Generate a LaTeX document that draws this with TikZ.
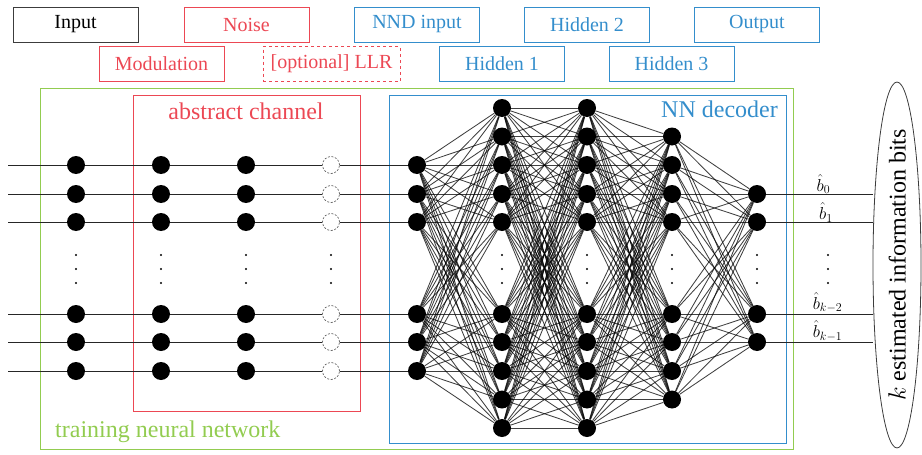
\documentclass[tikz,border=0pt]{standalone}
\usepackage{fontspec}
\setmainfont{Liberation Serif}
\newfontfamily\timesfont{Liberation Serif}
\usetikzlibrary{shapes.geometric}
\definecolor{chred}{RGB}{236,72,84}
\definecolor{nnblue}{RGB}{52,142,204}
\definecolor{trgreen}{RGB}{146,204,80}
\definecolor{inkgray}{RGB}{60,60,60}
\begin{document}
\begin{tikzpicture}[x=1pt,y=-1pt,
  legend/.style={draw, line width=1pt, minimum width=125pt, minimum height=35pt,
                 inner sep=0pt, font=\timesfont\fontsize{20}{22}\selectfont},
  neuron/.style={circle, fill=black, minimum size=18pt, inner sep=0pt},
  ghost/.style={circle, draw=black!70, dashed, dash pattern=on 2pt off 1.6pt,
                line width=0.6pt, minimum size=17pt, inner sep=0pt, fill=white},
  wire/.style={line width=0.9pt, black!85},
  link/.style={line width=0.85pt, black, opacity=0.75},
  frame/.style={line width=1pt},
  vdot/.style={circle, fill=black, minimum size=2.4pt, inner sep=0pt},
  biglabel/.style={font=\timesfont\fontsize{24}{28}\selectfont},
  bitlabel/.style={anchor=base, inner sep=0pt, font=\fontsize{18.5}{20}\selectfont}]

\useasboundingbox (0,0) rectangle (922,455);

% legend
\node[legend, draw=inkgray, text=black] (lg-in) at (75.5,24.5) {Input};
\node[legend, draw=chred, text=chred] (lg-noise) at (246.5,24.5) {Noise};
\node[legend, draw=nnblue, text=nnblue] (lg-nnd) at (417,24.5) {NND input};
\node[legend, draw=nnblue, text=nnblue] (lg-h2) at (587,24.5) {Hidden 2};
\node[legend, draw=nnblue, text=nnblue] (lg-out) at (757,24.5) {Output};
\node[legend, draw=chred, text=chred] (lg-mod) at (161.5,64) {Modulation};
\node[legend, draw=chred, text=chred, dashed, minimum width=137pt] (lg-llr) at (331.5,64) {[optional] LLR};
\node[legend, draw=nnblue, text=nnblue] (lg-h1) at (502,64) {Hidden 1};
\node[legend, draw=nnblue, text=nnblue] (lg-h3) at (671.5,64) {Hidden 3};

% frames
\draw[frame, trgreen] (40,88) rectangle (793,449);
\draw[frame, chred] (133,95) rectangle (360,411);
\draw[frame, nnblue] (389,95) rectangle (786,443);
\node[biglabel, text=chred, anchor=base] (lb-ch) at (246,119) {abstract channel};
\node[biglabel, text=trgreen, anchor=base west, inner sep=0pt] (lb-tr) at (55,437) {training neural network};
\node[biglabel, text=nnblue, anchor=base east, inner sep=0pt] (lb-nn) at (778,117) {NN decoder};

% input, channel and NND input columns
\foreach \y [count=\i] in {165,194,222,314,342,371} {
  \coordinate (w-\i) at (8,\y);
  \node[neuron] (in-\i) at (76,\y) {};
  \node[neuron] (md-\i) at (161,\y) {};
  \node[neuron] (ns-\i) at (246,\y) {};
  \node[ghost] (ll-\i) at (331,\y) {};
  \node[neuron] (nd-\i) at (417,\y) {};
}
% hidden layers
\foreach \y [count=\i] in {108,136.5,165,194,222,314,342,371,399.5,428} {
  \node[neuron] (ha-\i) at (502,\y) {};
  \node[neuron] (hb-\i) at (587,\y) {};
}
\foreach \y [count=\i] in {136.5,165,194,222,314,342,371,399.5} {
  \node[neuron] (hc-\i) at (672,\y) {};
}
% output layer
\foreach \y [count=\i] in {194,222,314,342} {
  \node[neuron] (op-\i) at (757,\y) {};
}

% wires through the channel
\foreach \i in {1,...,6}
  \draw[wire] (w-\i) -- (in-\i) -- (md-\i) -- (ns-\i) -- (ll-\i) -- (nd-\i);

% fully connected layers
\foreach \i in {1,...,6}
  \foreach \j in {1,...,10}
    \draw[link] (nd-\i) -- (ha-\j);
\foreach \i in {1,...,10}
  \foreach \j in {1,...,10}
    \draw[link] (ha-\i) -- (hb-\j);
\foreach \i in {1,...,10}
  \foreach \j in {1,...,8}
    \draw[link] (hb-\i) -- (hc-\j);
\foreach \i in {1,...,8}
  \foreach \j in {1,...,4}
    \draw[link] (hc-\i) -- (op-\j);

% vertical ellipses
\foreach \x in {76,161,246,331,502,587,672,757,828}
  \foreach \y in {255,269,283}
    \node[vdot] at (\x,\y) {};

% estimated bits
\node[ellipse, draw=inkgray, line width=0.8pt, minimum width=48pt, minimum height=366pt,
      inner sep=0pt] (bits) at (897,265) {};
\node[biglabel, rotate=90] (bits-text) at (bits.center) {$k$ estimated information bits};
\foreach \i in {1,...,4}
  \draw[wire] (op-\i) -- (op-\i -| bits.west);
\node[bitlabel] (b0) at (823.5,191) {$\hat{b}_0$};
\node[bitlabel] (b1) at (826,219.5) {$\hat{b}_1$};
\node[bitlabel] (b2) at (827.5,309) {$\hat{b}_{k-2}$};
\node[bitlabel] (b3) at (827.5,337.5) {$\hat{b}_{k-1}$};
\end{tikzpicture}
\end{document}
